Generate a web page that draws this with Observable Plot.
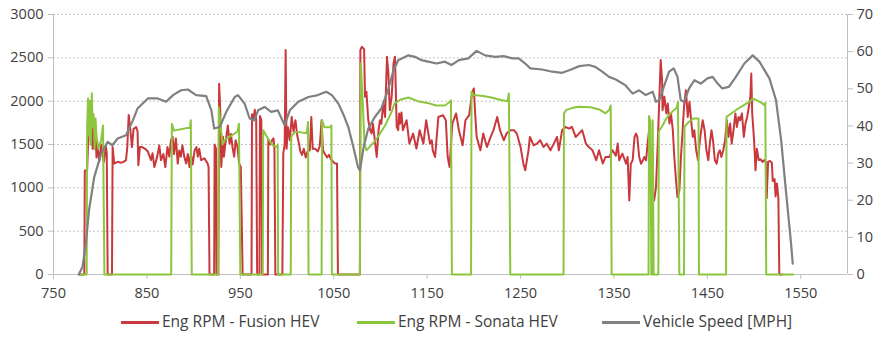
<!DOCTYPE html>
<html>
<head>
<meta charset="utf-8">
<script src="https://cdn.jsdelivr.net/npm/d3@7"></script>
<script src="https://cdn.jsdelivr.net/npm/@observablehq/plot@0.6"></script>
<style>
  body { margin: 0; background: #fff; font-family: "Open Sans", sans-serif; }
  #chart { position: relative; width: 880px; height: 337px; }
  #legend { position: absolute; left: 0; top: 310px; width: 880px; height: 27px; }
  .sw { position: absolute; height: 3px; top: 11px; }
  .lb { position: absolute; top: 1px; font-size: 15.5px; color: #404040; white-space: nowrap; line-height: 20px; }
</style>
</head>
<body>
<div id="chart"><div id="legend"></div></div>
<script>
// Test-run time axis (s) and the three recorded channels: [time, value]
const xTicks = [750, 850, 950, 1050, 1150, 1250, 1350, 1450, 1550];
const rpmTicks = [0, 500, 1000, 1500, 2000, 2500, 3000];
const speedTicks = [0, 10, 20, 30, 40, 50, 60, 70];

const seriesNames = ["Eng RPM - Fusion HEV", "Eng RPM - Sonata HEV", "Vehicle Speed [MPH]"];
const seriesColors = ["#C8383C", "#8CC63F", "#808080"];

const fusionRpm = [
  [778,0],[783,0],[783.5,1200],[786,1200],[787,1500],[788,1900],[789,2000],[790,1500],[791,1700],[792,1450],
  [793,1750],[794,1450],[795,1650],[796,1350],[797,1500],[799,1300],[801,1500],[803,1350],[804,1300],[806,1480],
  [807,1400],[808,0],[812.6,0],[813.3,1470],[815,1280],[818.6,1300],[822,1290],[825,1300],[827.6,1320],[829,1470],
  [830.5,1840],[832,1700],[834,1470],[835.7,1680],[838.5,1700],[840,1650],[840.8,1260],[842.5,1470],[845,1470],[848,1450],
  [851,1420],[854.4,1320],[856,1400],[858,1240],[861,1360],[863.3,1490],[865,1320],[867.6,1390],[869.7,1240],[872,1470],
  [874,1360],[875.7,1550],[877.5,1590],[879,1390],[881,1570],[883,1280],[884.6,1430],[886.4,1360],[888,1490],[890,1360],
  [892,1280],[893.8,1390],[895.6,1240],[897,1390],[899,1270],[901,1430],[903,1470],[904.5,1360],[906,1450],[908,1320],
  [911.6,1340],[915,1280],[916,1240],[917,0],[922,0],[922.5,1500],[924,1450],[924.5,0],[926.5,0],[927.3,2200],
  [928.5,1900],[929.6,1240],[931.4,1590],[932.4,1360],[934,1510],[936.6,1720],[938.5,1510],[940,1620],[941.6,1470],[943.4,1360],
  [945,1550],[947,1470],[948.7,1280],[950.5,1240],[952.5,0],[962,0],[962.5,1850],[964,1800],[965.5,1900],[967,1780],
  [968,0],[970.5,0],[971,1830],[972.5,1780],[973.3,0],[979.5,0],[980,1560],[982,1500],[984,1550],[985.5,1570],
  [986.5,1450],[987.5,0],[995,0],[996,1400],[997.5,1500],[998.5,2590],[999.5,1450],[1001,1700],[1003,1550],[1005,1820],
  [1007,1650],[1009,1780],[1011,1600],[1013,1500],[1014,1430],[1016,1380],[1018,1450],[1020,1350],[1022,1420],[1024.4,1433],
  [1026,1818],[1027.5,1450],[1030,1450],[1033,1420],[1035,1480],[1037,1780],[1038.5,1433],[1040,1400],[1043,1350],[1045,1380],
  [1047,1330],[1048,1318],[1051,1282],[1053.5,1282],[1054.5,0],[1078,0],[1078.5,2590],[1080,2627],[1082.5,2600],[1083.5,2050],
  [1085,2108],[1087,1780],[1089,1665],[1090.6,1627],[1092,1742],[1094,1549],[1096,1356],[1098,1665],[1099.5,1780],[1101,1740],
  [1103,1973],[1105,1818],[1107,2512],[1108.5,2320],[1110,1896],[1112,2050],[1114,2435],[1115.6,2512],[1117.4,1704],[1119,1665],
  [1120,1858],[1121,1740],[1122.5,1870],[1124,1665],[1128,1780],[1131,1511],[1135,1626],[1138.5,1453],[1142,1665],[1146,1510],
  [1149,1780],[1153,1510],[1155,1549],[1156,1433],[1158.5,1356],[1162,1818],[1167,1838],[1170,1780],[1172,1356],[1174,1240],
  [1177,1742],[1181,1858],[1184,1665],[1188,1491],[1191,1780],[1195,1838],[1198,2089],[1200,2147],[1201.5,1840],[1203,1587],
  [1207,1433],[1210,1626],[1214,1471],[1218,1587],[1221,1665],[1225,1818],[1228,1665],[1232,1549],[1235,1626],[1239,1665],
  [1243,1665],[1246,1626],[1250,1471],[1253,1279],[1255,1202],[1258.5,1433],[1260,1587],[1264,1491],[1267.5,1510],[1271,1549],
  [1274.6,1471],[1278,1510],[1282,1433],[1285.6,1510],[1289,1587],[1291,1433],[1294.5,1665],[1298,1703],[1302,1684],[1305,1703],
  [1309,1587],[1312.5,1626],[1316,1665],[1320,1510],[1323,1471],[1327,1433],[1331,1318],[1334,1433],[1338,1280],[1341,1356],
  [1345,1356],[1348.5,1433],[1352,1370],[1354,1511],[1355.6,1318],[1359,1395],[1363,1279],[1364.6,1356],[1366.4,855],[1368,1279],
  [1370,1318],[1372,1587],[1373.6,1626],[1375,1587],[1377,1356],[1379,1279],[1381,1318],[1382.6,1356],[1384.4,1318],[1386,1510],
  [1388,1703],[1389.6,1279],[1391.5,893],[1393,855],[1395,1009],[1397,1549],[1398.5,2011],[1400,2474],[1401.5,2243],[1402,1896],
  [1404,2050],[1406,1858],[1407.6,1973],[1409.4,1742],[1411,1858],[1413,1665],[1414.6,1356],[1416.4,1087],[1418,893],[1420,970],
  [1421.7,1356],[1423.5,1665],[1425,1934],[1427,2127],[1429,1818],[1430.8,1992],[1432.6,1780],[1434.4,1587],[1436,1665],[1438,1433],
  [1440,1318],[1441.6,1510],[1443.4,1665],[1445,1780],[1447,1665],[1449,1433],[1451,1318],[1452.6,1510],[1454.4,1665],[1456,1549],
  [1458,1318],[1460,1279],[1461.6,1395],[1463.4,1433],[1465,1356],[1467,1433],[1469,1549],[1470.8,1780],[1472.6,1587],[1474.4,1742],
  [1476,1510],[1478,1665],[1480,1858],[1481.6,1703],[1483.4,1818],[1485,1780],[1487,1858],[1489,1587],[1490.8,1742],[1492.6,1818],
  [1494.4,1934],[1496,2050],[1497,2320],[1498,1858],[1500,1549],[1501.5,1202],[1503,1450],[1505,1320],[1507,1330],[1509,1300],
  [1511,1320],[1512.5,1300],[1513.5,880],[1515,1300],[1517,1310],[1519,1290],[1520,1080],[1522,1100],[1523,900],[1524.5,1050],
  [1526,880],[1527,0],[1530,0]
];

const sonataRpm = [
  [778,0],[785.5,0],[786,1700],[787,2030],[788,1600],[789,2000],[790,1500],[791,2090],[792,1700],[793,1850],
  [794,1450],[795,1800],[796,1600],[798,1450],[801,1550],[803,1720],[804.5,0],[876,0],[876.7,1740],[879,1660],
  [893,1690],[896,1690],[897,1780],[898,0],[926,0],[927,1930],[929,1700],[931,1500],[933,1550],[940,1600],
  [947,1650],[948.5,1740],[950,0],[974,0],[974.5,1665],[980,1560],[985,1491],[989,1470],[990,1500],[990.5,0],
  [1004,0],[1004.5,1590],[1008,1640],[1015,1640],[1021,1630],[1022.5,1760],[1023,0],[1037,0],[1037.5,1780],[1040,1700],
  [1046,1700],[1047.5,1720],[1048,0],[1078,0],[1079,2435],[1081,2000],[1083,1500],[1085,1433],[1095,1550],[1105,1720],
  [1112,1876],[1115,1973],[1122,2020],[1130,2042],[1140,2000],[1150,1980],[1160,1950],[1169,1950],[1174,1990],[1175.5,2011],
  [1176.5,0],[1197,0],[1197.5,2108],[1200,2070],[1210,2060],[1220,2040],[1230,2011],[1236,2000],[1237.5,2089],[1239,0],
  [1296,0],[1296.5,1858],[1299,1900],[1305,1920],[1312.5,1935],[1325,1930],[1335,1900],[1341,1860],[1345,1900],[1346.5,1950],
  [1347.5,0],[1387,0],[1387.5,1830],[1389,1760],[1390,0],[1391,0],[1391.5,1780],[1392.5,0],[1397.5,0],[1398,1650],
  [1402,1720],[1406,1800],[1410,1850],[1414,1896],[1417,1920],[1418.5,1992],[1420,0],[1425,0],[1425.5,1703],[1430,1760],
  [1435,1800],[1439,1800],[1440.5,1800],[1441,0],[1470,0],[1470.5,1819],[1476,1860],[1483,1915],[1490,1960],[1496,2000],
  [1498.5,2031],[1503,2010],[1508,1980],[1511,1954],[1512,1980],[1513,0],[1542,0]
];

const speedMph = [
  [777,0],[781,2],[784.7,8.3],[788,17.3],[793.6,26.2],[801,32.5],[808,35.7],[813,34.8],[818.7,36.6],[827.6,37.5],
  [835,41.5],[840,44.7],[851,47.4],[861.6,47.4],[870.5,46.5],[878,48.3],[886.6,49.6],[893.8,49.8],[902.7,48.3],[913.5,48],
  [919,44.2],[922,39.3],[928,39.7],[935,43.8],[944,47.8],[947.5,48.3],[954.6,46],[960,42],[965,41.5],[969,44.2],
  [976,45.1],[983,43.8],[990,44.2],[997.5,40.2],[1003,44.2],[1012,46.5],[1023,47.8],[1033,48.3],[1042,49.2],[1048,48.3],
  [1055,46],[1060,43.3],[1065.6,39.7],[1071,34.3],[1076,28.9],[1078,28],[1082,34.3],[1087,39.3],[1094,42.4],[1101,44.7],
  [1108.5,50],[1114,55],[1119,57.7],[1130,59],[1137,58.6],[1144,57.7],[1151,57.3],[1160,56.8],[1169,57.3],[1176,56.4],
  [1184,57.7],[1194,58.2],[1203,60.2],[1212,59],[1223,58.6],[1232,58.8],[1241,58.2],[1248,58.2],[1255,56.8],[1260.5,55.5],
  [1273,55.2],[1284,54.6],[1294.5,54.3],[1302,55],[1313,56.1],[1323,56.4],[1330,55.9],[1337.5,54.6],[1344.7,53.2],[1352,52.5],
  [1362,51],[1370,48.7],[1377,49.6],[1384,48.3],[1391.5,49.2],[1395,46.5],[1398.5,46.9],[1404,51],[1409,54.6],[1414,55.5],
  [1418,53.2],[1421.5,46.9],[1425,46.5],[1430.5,50.1],[1436,52.3],[1443,51.4],[1450,52.8],[1455.6,53.2],[1461,51.4],[1466,50.1],
  [1473,50.5],[1480.5,53.2],[1489.6,56.8],[1498.5,59],[1505.7,57.3],[1516.4,52.8],[1523.5,46.9],[1529,36.1],[1534,22.7],[1539.6,8.3],
  [1541.4,2.9]
];

const xDomain = [750, 1600];
const rpmDomain = [0, 3000];
const speedDomain = [0, 70];

// Speed shares the plot with RPM; rescale it onto the RPM (left) scale
const k = rpmDomain[1] / speedDomain[1];
const speedOnRpm = speedMph.map(([t, v]) => [t, v * k]);

const axisColor = "#bfbfbf";
const textColor = "#404040";
const plain = d => String(Math.round(d));

const chart = Plot.plot({
  width: 880,
  height: 310,
  marginLeft: 53,
  marginRight: 33,
  marginTop: 14,
  marginBottom: 36,
  style: { fontFamily: "'Open Sans', sans-serif", fontSize: "14.5px", background: "#fff" },
  x: { domain: xDomain, label: null },
  y: { domain: rpmDomain, label: null },
  marks: [
    Plot.gridY(rpmTicks.slice(1), { stroke: "#c4c4c4", strokeOpacity: 1, strokeDasharray: "2,2" }),
    Plot.ruleX([xDomain[0]], { stroke: axisColor }),
    Plot.ruleX([xDomain[1]], { stroke: axisColor }),
    Plot.ruleY([rpmDomain[0]], { stroke: axisColor }),
    Plot.axisX(xTicks, { tickSize: 5, tickPadding: 8, stroke: axisColor, fill: textColor, label: null, tickFormat: plain }),
    Plot.axisY(rpmTicks, { anchor: "left", tickSize: 5, tickPadding: 5, stroke: axisColor, fill: textColor, label: null, tickFormat: plain }),
    Plot.axisY(speedTicks.map(v => v * k), {
      anchor: "right", tickSize: 5, tickPadding: 4, stroke: axisColor, fill: textColor, label: null,
      tickFormat: v => plain(v / k)
    }),
    Plot.line(fusionRpm, { stroke: seriesColors[0], strokeWidth: 2 }),
    Plot.line(sonataRpm, { stroke: seriesColors[1], strokeWidth: 2 }),
    Plot.line(speedOnRpm, { stroke: seriesColors[2], strokeWidth: 2.2 })
  ]
});

const host = document.getElementById("chart");
host.insertBefore(chart, host.firstChild);

// Legend row under the plot
const legendPos = [[121, 162], [357, 398], [602, 643]];
const legend = document.getElementById("legend");
seriesNames.forEach((name, i) => {
  const sw = document.createElement("div");
  sw.className = "sw";
  sw.style.left = legendPos[i][0] + "px";
  sw.style.width = "38px";
  sw.style.background = seriesColors[i];
  legend.appendChild(sw);
  const lb = document.createElement("div");
  lb.className = "lb";
  lb.style.left = legendPos[i][1] + "px";
  lb.textContent = name;
  legend.appendChild(lb);
});
</script>
</body>
</html>
